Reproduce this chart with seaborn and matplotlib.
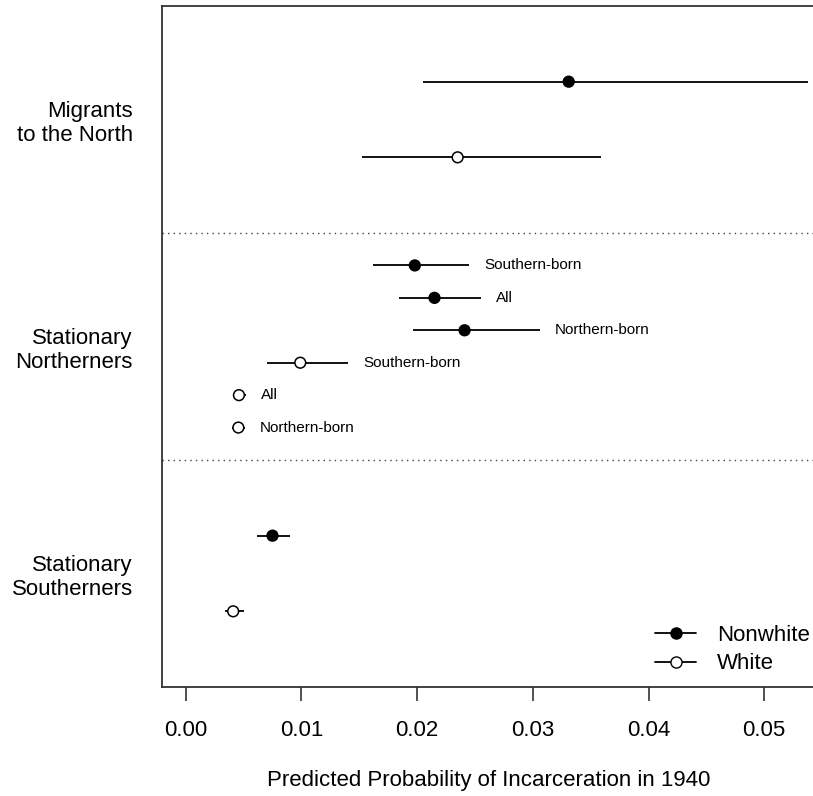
import numpy as np
import pandas as pd
import matplotlib
matplotlib.use("Agg")
import matplotlib.pyplot as plt
import seaborn as sns
from matplotlib.lines import Line2D

sns.set_style("ticks")
plt.rcParams["font.family"] = ["Liberation Sans", "DejaVu Sans"]
plt.rcParams["text.color"] = "black"
plt.rcParams["axes.labelcolor"] = "black"
plt.rcParams["xtick.color"] = "black"
plt.rcParams["ytick.color"] = "black"

# dados
groups = ["Migrants\nto the North", "Stationary\nNortherners", "Stationary\nSoutherners"]

mig_race = ["Nonwhite", "White"]
mig_sub = ["", ""]
mig_est = [0.0331, 0.0235]
mig_lo = [0.0205, 0.0152]
mig_hi = [0.0538, 0.0359]

sn_race = ["Nonwhite", "Nonwhite", "Nonwhite", "White", "White", "White"]
sn_sub = ["Southern-born", "All", "Northern-born", "Southern-born", "All", "Northern-born"]
sn_est = [0.0198, 0.0215, 0.0241, 0.0099, 0.0046, 0.00455]
sn_lo = [0.0162, 0.0184, 0.0196, 0.0070, 0.0041, 0.0040]
sn_hi = [0.0245, 0.0255, 0.0306, 0.0140, 0.0052, 0.0051]

ss_race = ["Nonwhite", "White"]
ss_sub = ["", ""]
ss_est = [0.0075, 0.0041]
ss_lo = [0.0062, 0.0034]
ss_hi = [0.0090, 0.0050]

# tabela
parts = []
for gi, (race, sub, est, lo, hi) in enumerate([
        (mig_race, mig_sub, mig_est, mig_lo, mig_hi),
        (sn_race, sn_sub, sn_est, sn_lo, sn_hi),
        (ss_race, ss_sub, ss_est, ss_lo, ss_hi)]):
    n = len(est)
    part = pd.DataFrame({"grupo": groups[gi], "race": race, "sub": sub,
                         "est": est, "lo": lo, "hi": hi})
    # each group takes a third of the panel, rows evenly spaced inside it
    part["y"] = gi * 21 + (np.arange(n) + 1) * 21 / (n + 1)
    parts.append(part)
df = pd.concat(parts, ignore_index=True)

# gráfico
fig = plt.figure(figsize=(8.13, 7.96), dpi=100)
ax = fig.add_axes([162 / 813, 1 - 687 / 796, (815.5 - 162) / 813, (687 - 6) / 796])

ax.hlines(df["y"], df["lo"], df["hi"], color="black", lw=1.3, zorder=2)
sns.scatterplot(data=df, x="est", y="y", hue="race",
                palette={"Nonwhite": "black", "White": "white"},
                edgecolor="black", linewidth=1.1, s=60, legend=False,
                ax=ax, zorder=3)

for _, r in df[df["sub"] != ""].iterrows():
    ax.annotate(r["sub"], xy=(r["hi"], r["y"]), xytext=(11, 0),
                textcoords="offset points", va="center", ha="left", fontsize=11)

for yy in [21, 42]:
    ax.axhline(yy, color="#444444", lw=1, ls=(0, (1, 3)), zorder=1)

ax.set_xlim(-0.00205, 0.05443)
ax.set_ylim(63, 0)
ax.set_yticks([10.5, 31.5, 52.5], groups, fontsize=16)
ax.tick_params(axis="y", length=0, pad=21)
ax.set_xticks(np.arange(0, 0.051, 0.01), [f"{v:.2f}" for v in np.arange(0, 0.051, 0.01)])
ax.tick_params(axis="x", length=10, width=1.2, pad=13.5, labelsize=16, color="#333333")
ax.set_xlabel("Predicted Probability of Incarceration in 1940", fontsize=16, labelpad=21)
ax.set_ylabel("")
for s in ax.spines.values():
    s.set_linewidth(1.3)
    s.set_color("#333333")

handles = [Line2D([0], [0], color="black", lw=1.3, marker="o", markersize=8,
                  markerfacecolor=c, markeredgecolor="black") for c in ["black", "white"]]
fig.legend(handles, ["Nonwhite", "White"], loc="upper left",
           bbox_to_anchor=(655 / 813, 1 - 625 / 796), frameon=False, fontsize=16,
           borderpad=0, borderaxespad=0, handlelength=1.85, handletextpad=0.95,
           labelspacing=0.33)

plt.savefig("out.png", dpi=100)
